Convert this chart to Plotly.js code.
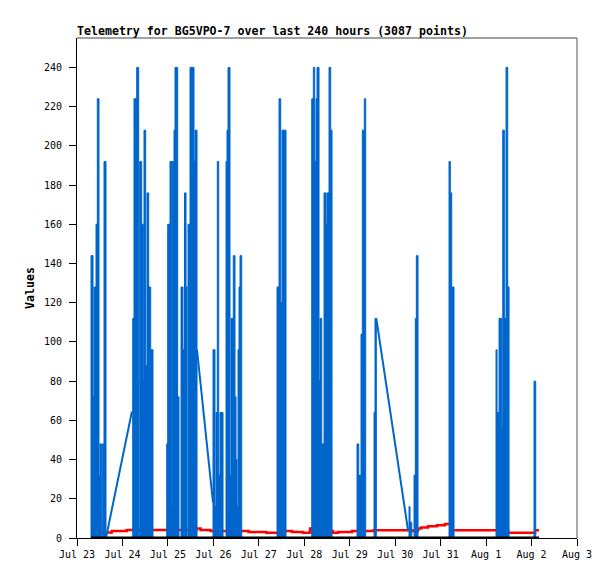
<!DOCTYPE html>
<html>
<head>
<meta charset="utf-8">
<script src="https://cdn.plot.ly/plotly-3.0.1.min.js"></script>
<style>
  html, body { margin: 0; padding: 0; background: #ffffff; }
  #chart { width: 615px; height: 579px; }
</style>
</head>
<body>
<div id="chart"></div>
<script>
// ---- Data (hours after Jul 23 00:00) ----
const baseDate = Date.UTC(2024, 6, 23);

// dense blue telemetry blocks: start hour, end hour, peak value
const colStart = [
  7.39, 8.45, 8.98, 10.03, 10.72, 11.62, 12.14, 13.57, 14.26,
  29.41, 30.10, 31.52,
  33.11, 34.16, 35.01, 35.38, 36.27, 36.96, 37.86, 38.91,
  47.36, 47.89, 49.10, 50.00, 50.32, 51.22, 51.74, 53.17,
  54.92, 55.97, 56.76, 57.56,
  58.61, 59.67, 61.78, 62.31,
  71.81, 72.87, 73.40, 74.08, 74.82, 75.51,
  78.68, 79.21, 79.74, 80.79, 81.32, 82.53, 83.43, 83.96, 84.49, 85.01, 85.54, 86.07,
  105.61, 106.67, 107.56, 108.25,
  123.93, 124.78, 125.52, 126.21, 126.73, 127.79, 128.32, 129.21, 130.43, 131.48, 132.01, 133.07, 133.96,
  147.85, 148.75, 149.96, 150.65, 151.70,
  156.83, 157.35,
  175.31, 175.84, 177.95, 178.64, 179.17,
  196.43, 197.12, 197.86,
  221.25, 221.78, 222.84, 224.26, 224.79, 225.64, 226.53, 227.43,
  241.30
];
const colEnd = [
  8.45, 8.98, 10.03, 10.72, 11.62, 12.14, 13.04, 14.26, 15.31,
  30.10, 31.52, 32.58,
  34.16, 35.01, 35.38, 36.27, 36.96, 37.86, 38.91, 40.13,
  47.89, 49.10, 50.00, 50.32, 51.22, 51.74, 53.17, 53.86,
  55.97, 56.76, 57.56, 58.09,
  59.67, 61.78, 62.31, 63.37,
  72.87, 73.40, 74.08, 74.82, 75.51, 77.10,
  79.21, 79.74, 80.79, 81.32, 82.53, 83.43, 83.96, 84.49, 85.01, 85.54, 86.07, 86.97,
  106.67, 107.56, 108.25, 110.36,
  124.78, 125.52, 126.21, 126.73, 127.79, 128.32, 129.21, 130.43, 131.48, 132.01, 133.07, 133.96, 134.65,
  148.75, 149.96, 150.65, 151.70, 152.44,
  157.35, 158.04,
  175.84, 176.74, 178.64, 179.17, 180.06,
  197.12, 197.86, 199.07,
  221.78, 222.84, 224.26, 224.79, 225.64, 226.53, 227.43, 228.12,
  242.20
];
const colPeak = [
  144, 72, 128, 160, 224, 32, 48, 48, 192,
  112, 224, 240,
  192, 160, 80, 208, 88, 176, 128, 96,
  48, 160, 192, 16, 192, 208, 240, 72,
  128, 96, 176, 128,
  160, 240, 192, 208,
  96, 16, 64, 192, 32, 64,
  192, 208, 240, 32, 112, 144, 72, 40, 16, 96, 128, 144,
  128, 224, 120, 208,
  224, 240, 192, 224, 240, 80, 112, 48, 176, 160, 176, 240, 208,
  48, 32, 104, 208, 224,
  64, 112,
  16, 8, 32, 112, 144,
  192, 176, 128,
  96, 64, 112, 56, 208, 112, 240, 128,
  80
];

// blue line across data gaps
const rampHours  = [15.3, 28.89, 29.41, null, 63.37, 71.45, 71.81, null, 158.04, 174.78, 175.31];
const rampValues = [0, 64, 64, null, 96, 18, 18, null, 112, 4, 4];

// red series (step values)
const redHours = [12.67, 18.32, 26.24, 63.10, 65.21, 70.49, 90.56, 100.07, 107.19, 113.53, 119.34,
  123.04, 124.09, 135.18, 137.82, 145.22, 156.57, 176.90, 180.07, 181.65, 185.35, 190.10,
  194.32, 197.49, 227.59, 241.85, 243.96];
const redValues = [2.8, 3.6, 4.1, 4.8, 4.1, 3.6, 3.1, 2.7, 3.6, 3.1, 2.7,
  4.8, 3.6, 2.7, 3.1, 3.6, 3.9, 3.6, 4.9, 5.4, 6.0, 6.5,
  7.1, 3.9, 2.7, 3.9, 3.9];

// black series
const blackHours = [7.39, 243.96];
const blackValues = [0, 0];

const titleText = 'Telemetry for BG5VPO-7 over last 240 hours (3087 points)';
const yTitle = 'Values';

// ---- helpers ----
const HOUR = 3600e3;
function toDate(h) {
  if (h === null) return null;
  return new Date(baseDate + h * HOUR).toISOString().replace('T', ' ').replace('Z', '');
}

const BLUE = '#0066cc';
const monoFont = '"DejaVu Sans Mono", "Liberation Mono", monospace';

const traces = [
  {
    type: 'scatter', mode: 'lines',
    x: redHours.map(toDate), y: redValues,
    line: { color: '#ff0000', width: 2.5, shape: 'hv' },
    xaxis: 'x', yaxis: 'y', hoverinfo: 'skip', showlegend: false
  },
  {
    type: 'bar',
    x: colStart.map((s, i) => toDate((s + colEnd[i]) / 2)),
    width: colStart.map((s, i) => (colEnd[i] - s) * HOUR),
    y: colPeak,
    marker: { color: BLUE, line: { color: BLUE, width: 1 } },
    xaxis: 'x', yaxis: 'y2', hoverinfo: 'skip', showlegend: false
  },
  {
    type: 'scatter', mode: 'lines',
    x: rampHours.map(toDate), y: rampValues,
    line: { color: BLUE, width: 2 },
    connectgaps: false,
    xaxis: 'x', yaxis: 'y2', hoverinfo: 'skip', showlegend: false
  },
  {
    type: 'scatter', mode: 'lines',
    x: blackHours.map(toDate), y: blackValues,
    line: { color: '#000000', width: 3 },
    xaxis: 'x', yaxis: 'y2', hoverinfo: 'skip', showlegend: false
  }
];

const layout = {
  width: 615, height: 579,
  margin: { l: 77, r: 38, t: 38, b: 41, pad: 0 },
  paper_bgcolor: '#ffffff', plot_bgcolor: '#ffffff',
  showlegend: false,
  title: {
    text: titleText,
    x: 77 / 615, xanchor: 'left', xref: 'container',
    y: 1 - 31 / 579, yanchor: 'middle',
    font: { family: monoFont, size: 11.6, color: '#000000', weight: 'bold' }
  },
  xaxis: {
    type: 'date',
    range: [toDate(0), toDate(264)],
    tick0: toDate(0), dtick: 86400000,
    tickformat: '%b %-d',
    ticks: 'outside', ticklen: 7, tickwidth: 1, tickcolor: '#000000',
    showline: true, linecolor: '#000000', linewidth: 1,
    showgrid: false, zeroline: false,
    tickfont: { family: monoFont, size: 10, color: '#000000' }
  },
  yaxis: {
    range: [0, 255],
    tick0: 0, dtick: 20,
    ticks: 'outside', ticklen: 7, tickwidth: 1, tickcolor: '#000000',
    showline: true, linecolor: '#000000', linewidth: 1,
    showgrid: false, zeroline: false,
    ticklabelstandoff: 5,
    tickfont: { family: monoFont, size: 10, color: '#000000' },
    title: { text: yTitle, standoff: 6, font: { family: monoFont, size: 11.6, color: '#000000', weight: 'bold' } }
  },
  yaxis2: {
    overlaying: 'y', range: [0, 255], visible: false, showgrid: false, zeroline: false
  },
  shapes: [
    { type: 'line', xref: 'paper', yref: 'paper', x0: 0, x1: 1, y0: 1, y1: 1, line: { color: '#444444', width: 1 } },
    { type: 'line', xref: 'paper', yref: 'paper', x0: 1, x1: 1, y0: 0, y1: 1, line: { color: '#555555', width: 1 } }
  ]
};

Plotly.newPlot('chart', traces, layout, { staticPlot: true, displayModeBar: false });
</script>
</body>
</html>
